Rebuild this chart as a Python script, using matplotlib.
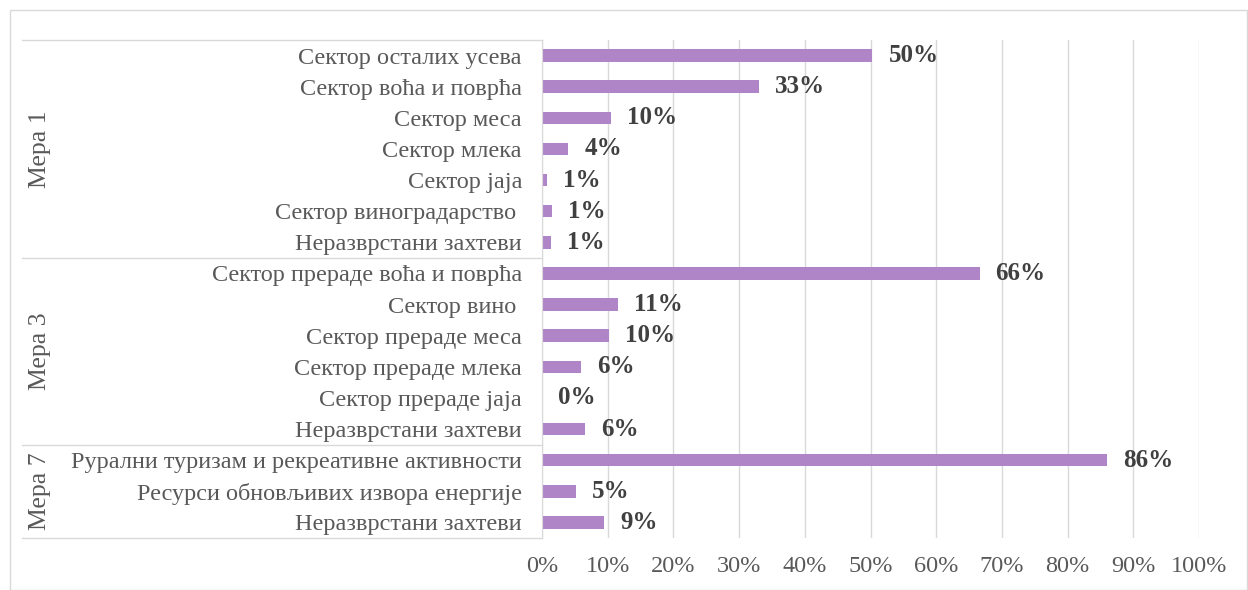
import matplotlib.pyplot as plt
from matplotlib.lines import Line2D
from matplotlib.patches import Rectangle

plt.rcParams['font.family'] = ['Liberation Serif', 'DejaVu Serif']

# Категории и вредности
groups = ["Мера 1", "Мера 3", "Мера 7"]
group_sizes = [7, 6, 3]
categories = [
    "Сектор осталих усева",
    "Сектор воћа и поврћа",
    "Сектор меса",
    "Сектор млека",
    "Сектор јаја",
    "Сектор виноградарство ",
    "Неразврстани захтеви",
    "Сектор прераде воћа и поврћа",
    "Сектор вино ",
    "Сектор прераде меса",
    "Сектор прераде млека",
    "Сектор прераде јаја",
    "Неразврстани захтеви",
    "Рурални туризам и рекреативне активности",
    "Ресурси обновљивих извора енергије",
    "Неразврстани захтеви",
]
values = [0.503, 0.33, 0.105, 0.04, 0.007, 0.015, 0.014,
          0.666, 0.115, 0.102, 0.06, 0.0, 0.065,
          0.86, 0.052, 0.095]
labels = ["50%", "33%", "10%", "4%", "1%", "1%", "1%",
          "66%", "11%", "10%", "6%", "0%", "6%",
          "86%", "5%", "9%"]

W, H = 1248, 590
fig = plt.figure(figsize=(W / 100, H / 100), dpi=100)
ax = fig.add_axes([542 / W, 1 - 538 / H, 657 / W, 498 / H])

y = list(range(len(categories)))
ax.barh(y, values, height=0.4, color="#AF85C7")
for yi, v, lab in zip(y, values, labels):
    ax.annotate(lab, (v, yi), xytext=(11.5, 0), textcoords="offset points",
                va="center", ha="left", fontsize=18, fontweight="bold", color="#404040")

ax.set_xlim(0, 1)
ax.set_ylim(len(categories) - 0.5, -0.5)
ax.set_xticks([i / 10 for i in range(11)])
ax.set_xticklabels([f"{i * 10}%" for i in range(11)])
ax.set_yticks(y)
ax.set_yticklabels(categories)
ax.tick_params(axis="both", length=0, labelsize=17.5, colors="#595959")
ax.tick_params(axis="y", pad=14.4)
ax.tick_params(axis="x", pad=13)
ax.grid(axis="x", color="#D9D9D9", linewidth=1)
ax.set_axisbelow(True)
for s in ["top", "right", "bottom"]:
    ax.spines[s].set_visible(False)
ax.spines["left"].set_color("#D9D9D9")

# Линије група и натписи
tr = ax.get_yaxis_transform()
x0 = (22 - 542) / 657
bounds = [-0.5]
for n in group_sizes:
    bounds.append(bounds[-1] + n)
for b in bounds:
    ax.add_line(Line2D([x0, 0], [b, b], transform=tr, color="#D9D9D9",
                       linewidth=1, clip_on=False))
for g, lo, hi in zip(groups, bounds[:-1], bounds[1:]):
    ax.text((40 - 542) / 657, (lo + hi) / 2, g, transform=tr, rotation=90,
            ha="center", va="center", fontsize=18.5, color="#595959")

fig.patches.append(Rectangle((10 / W, 0), (W - 11) / W, 1 - 10 / H,
                             transform=fig.transFigure, fill=False,
                             edgecolor="#D9D9D9", linewidth=1))

fig.savefig("out.png", dpi=100)
